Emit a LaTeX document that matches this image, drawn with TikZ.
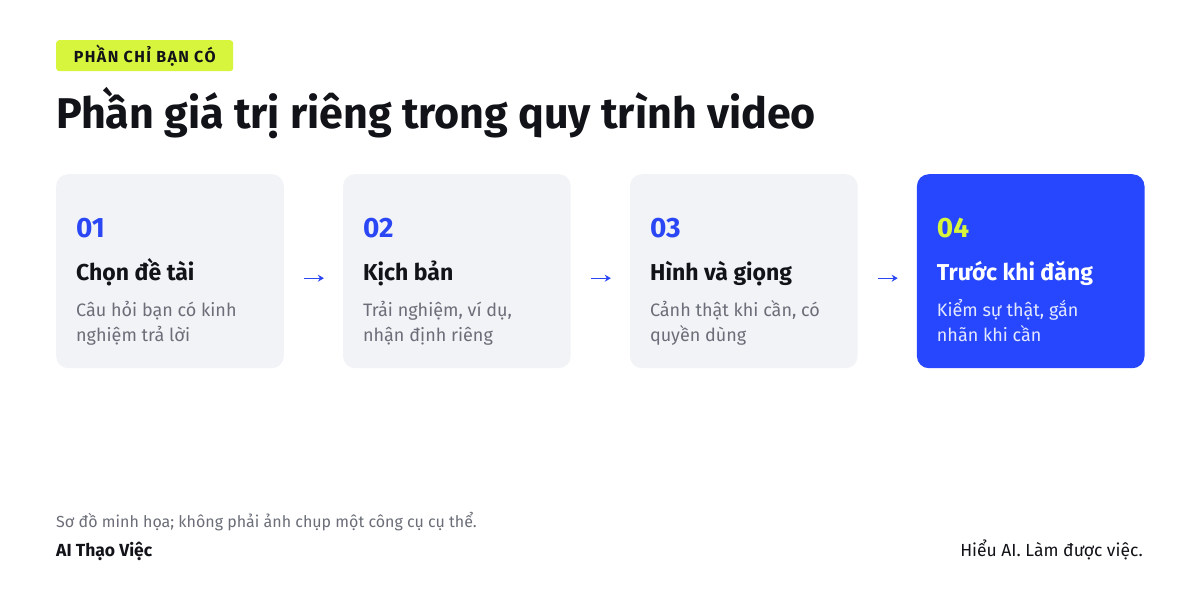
\documentclass[tikz,border=0pt]{standalone}
\usepackage{fontspec}
\setmainfont{Fira Sans}
\usetikzlibrary{positioning,arrows.meta}

\definecolor{lime}{HTML}{D6F53C}
\definecolor{ink}{HTML}{111318}
\definecolor{accent}{HTML}{2A46F5}
\definecolor{cardbg}{HTML}{F2F3F7}
\definecolor{cardblue}{HTML}{2747FF}
\definecolor{muted}{HTML}{6B6E78}
\definecolor{paleblue}{HTML}{E3E8FF}

\begin{document}
\begin{tikzpicture}[
    x=1pt, y=-1pt,
    node distance=58.9pt,
    card/.style={rectangle, fill=cardbg, rounded corners=12pt, minimum width=227.6pt, minimum height=194pt, inner sep=0pt},
    num/.style={anchor=base west, inner sep=0pt, text=accent, font=\fontsize{28pt}{30pt}\selectfont\bfseries},
    head/.style={anchor=base west, inner sep=0pt, text=ink, font=\fontsize{23pt}{26pt}\selectfont\bfseries},
    desc/.style={anchor=base west, inner sep=0pt, text=muted, font=\fontsize{18pt}{22pt}\selectfont},
    arrow/.style={line width=1.4pt, accent, -{Stealth[length=6pt,width=7pt]}, shorten <=20pt, shorten >=19pt}
]
\useasboundingbox[fill=white] (0,0) rectangle (1200,600);

% Badge and title
\node[fill=lime, rounded corners=3pt, anchor=north west, minimum width=177pt, minimum height=31pt, inner sep=0pt,
      font=\fontsize{16pt}{18pt}\selectfont\bfseries\addfontfeature{LetterSpace=9}, text=ink] (badge) at (56,40) {PHẦN CHỈ BẠN CÓ};
\node[anchor=base west, inner sep=0pt, text=ink, font=\fontsize{43pt}{47pt}\selectfont\bfseries] (title) at (56,128)
    {Phần giá trị riêng trong quy trình video};

% Cards
\node[card, anchor=north west] (c1) at (56,174) {};
\node[card, right=of c1] (c2) {};
\node[card, right=of c2] (c3) {};
\node[card, right=of c3, fill=cardblue] (c4) {};

% Card texts
\node[num] (n1) at ([xshift=20pt,yshift=-63pt]c1.north west) {01};
\node[head] (h1) at ([xshift=20pt,yshift=-106pt]c1.north west) {Chọn đề tài};
\node[desc] (d1) at ([xshift=20pt,yshift=-142pt]c1.north west) {Câu hỏi bạn có kinh};
\node[desc] (e1) at ([xshift=20pt,yshift=-167pt]c1.north west) {nghiệm trả lời};

\node[num] (n2) at ([xshift=20pt,yshift=-63pt]c2.north west) {02};
\node[head] (h2) at ([xshift=20pt,yshift=-106pt]c2.north west) {Kịch bản};
\node[desc] (d2) at ([xshift=20pt,yshift=-142pt]c2.north west) {Trải nghiệm, ví dụ,};
\node[desc] (e2) at ([xshift=20pt,yshift=-167pt]c2.north west) {nhận định riêng};

\node[num] (n3) at ([xshift=20pt,yshift=-63pt]c3.north west) {03};
\node[head] (h3) at ([xshift=20pt,yshift=-106pt]c3.north west) {Hình và giọng};
\node[desc] (d3) at ([xshift=20pt,yshift=-142pt]c3.north west) {Cảnh thật khi cần, có};
\node[desc] (e3) at ([xshift=20pt,yshift=-167pt]c3.north west) {quyền dùng};

\node[num, text=lime] (n4) at ([xshift=20pt,yshift=-63pt]c4.north west) {04};
\node[head, text=white] (h4) at ([xshift=20pt,yshift=-106pt]c4.north west) {Trước khi đăng};
\node[desc, text=paleblue] (d4) at ([xshift=20pt,yshift=-142pt]c4.north west) {Kiểm sự thật, gắn};
\node[desc, text=paleblue] (e4) at ([xshift=20pt,yshift=-167pt]c4.north west) {nhãn khi cần};

% Arrows
\draw[arrow] ([yshift=-7pt]c1.east) -- ([yshift=-7pt]c2.west);
\draw[arrow] ([yshift=-7pt]c2.east) -- ([yshift=-7pt]c3.west);
\draw[arrow] ([yshift=-7pt]c3.east) -- ([yshift=-7pt]c4.west);

% Footer
\node[anchor=base west, inner sep=0pt, text=muted, font=\fontsize{16pt}{18pt}\selectfont] (note) at (56,527)
    {Sơ đồ minh họa; không phải ảnh chụp một công cụ cụ thể.};
\node[anchor=base west, inner sep=0pt, text=ink, font=\fontsize{17.5pt}{20pt}\selectfont\bfseries] (brand) at (56,556) {AI Thạo Việc};
\node[anchor=base east, inner sep=0pt, text=ink, font=\fontsize{17.5pt}{20pt}\selectfont] (slogan) at (1143,556) {Hiểu AI. Làm được việc.};
\end{tikzpicture}
\end{document}
